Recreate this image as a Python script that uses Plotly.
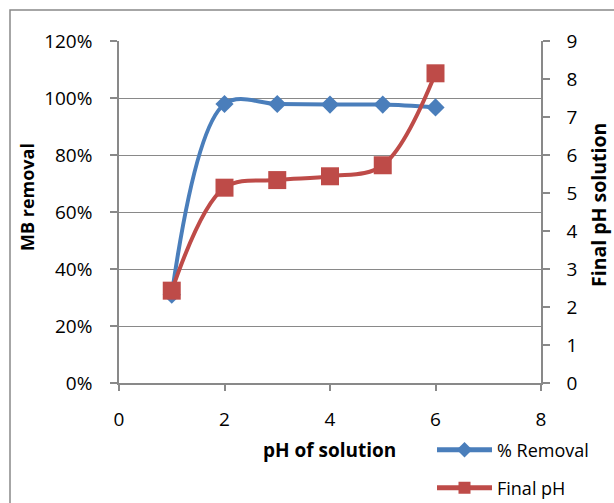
import plotly.graph_objects as go

# Initial solution pH and measured results
ph_initial = [1, 2, 3, 4, 5, 6]
removal = [0.31, 0.979, 0.979, 0.977, 0.977, 0.967]
final_ph = [2.43, 5.14, 5.34, 5.44, 5.73, 8.15]

x_ticks = [0, 2, 4, 6, 8]
left_ticks = [0, 0.2, 0.4, 0.6, 0.8, 1.0, 1.2]
right_ticks = list(range(0, 10))

BLUE = "#4A7EBB"
RED = "#BE4B48"
GRID = "#898989"
FONT = "Open Sans"

W, H = 614, 503
L, R, T, B = 119, 73, 41, 120
pw, ph = W - L - R, H - T - B


def px_x(v):
    return (v - L) / pw


def px_y(v):
    return (H - B - v) / ph


fig = go.Figure()

fig.add_trace(go.Scatter(
    x=ph_initial, y=removal, name="% Removal",
    mode="lines+markers",
    line=dict(color=BLUE, width=4, shape="spline", smoothing=1),
    marker=dict(symbol="diamond", size=14, color=BLUE),
    legend="legend",
))
fig.add_trace(go.Scatter(
    x=ph_initial, y=final_ph, name="Final pH", yaxis="y2",
    mode="lines+markers",
    line=dict(color=RED, width=4, shape="spline", smoothing=1),
    marker=dict(symbol="square", size=18, color=RED),
    legend="legend2",
))

axis_font = dict(family=FONT, size=19, color="black")

fig.update_layout(
    width=W, height=H,
    margin=dict(l=L, r=R, t=T, b=B, pad=0, autoexpand=False),
    paper_bgcolor="white", plot_bgcolor="white",
    font=axis_font,
    xaxis=dict(
        range=[0, 8], tickvals=x_ticks, ticks="outside", ticklen=6,
        tickcolor=GRID, tickwidth=1.5, showline=True, linecolor=GRID,
        linewidth=1.5, showgrid=False, zeroline=False,
        ticklabelstandoff=12, tickfont=axis_font,
    ),
    yaxis=dict(
        range=[0, 1.2], tickvals=left_ticks, tickformat=".0%",
        ticks="outside", ticklen=7, tickcolor=GRID, tickwidth=1.5,
        showline=True, linecolor=GRID, linewidth=1.5,
        showgrid=True, gridcolor=GRID, gridwidth=1.3, zeroline=False,
        ticklabelstandoff=14, tickfont=axis_font,
    ),
    yaxis2=dict(
        range=[0, 9], tickvals=right_ticks, overlaying="y", side="right",
        ticks="outside", ticklen=7, tickcolor=GRID, tickwidth=1.5,
        showline=True, linecolor=GRID, linewidth=1.5,
        showgrid=False, zeroline=False,
        ticklabelstandoff=13, tickfont=axis_font,
    ),
    legend=dict(
        x=px_x(432), y=px_y(450), xanchor="left", yanchor="middle",
        font=dict(family=FONT, size=18, color="black"),
        bgcolor="rgba(0,0,0,0)", itemsizing="constant", itemwidth=55,
    ),
    legend2=dict(
        x=px_x(432), y=px_y(488), xanchor="left", yanchor="middle",
        font=dict(family=FONT, size=18, color="black"),
        bgcolor="rgba(0,0,0,0)", itemsizing="constant", itemwidth=55,
    ),
    showlegend=True,
)

fig.add_annotation(
    text="<b>pH of solution</b>", xref="paper", yref="paper",
    x=px_x(329), y=px_y(450), showarrow=False,
    font=dict(family=FONT, size=19, color="black"),
    xanchor="center", yanchor="middle",
)
fig.add_annotation(
    text="<b>MB removal</b>", xref="paper", yref="paper",
    x=px_x(27), y=px_y(197), showarrow=False,
    font=dict(family=FONT, size=18, color="black"),
    textangle=-90, xanchor="center", yanchor="middle",
)
fig.add_annotation(
    text="<b>Final pH solution</b>", xref="paper", yref="paper",
    x=px_x(598), y=px_y(205), showarrow=False,
    font=dict(family=FONT, size=19.5, color="black"),
    textangle=-90, xanchor="center", yanchor="middle",
)

# Chart-area border
fig.add_shape(
    type="rect", xref="paper", yref="paper",
    x0=px_x(10), x1=px_x(W + 5), y0=px_y(H + 5), y1=px_y(10),
    line=dict(color=GRID, width=1.5), fillcolor="rgba(0,0,0,0)",
    layer="below",
)

fig.write_html("out.html")
